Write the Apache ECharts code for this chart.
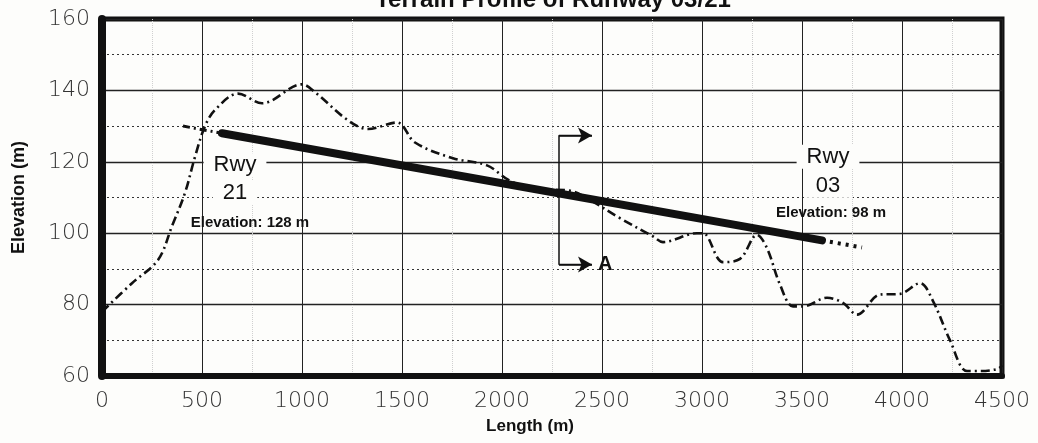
<!DOCTYPE html>
<html>
<head>
<meta charset="utf-8">
<script src="https://cdn.jsdelivr.net/npm/echarts@6/dist/echarts.min.js"></script>
<style>
	html, body { margin: 0; padding: 0; background: #fdfdfb; }
	#profileChart { width: 1038px; height: 443px; }
</style>
</head>
<body>
<div id="profileChart"></div>
<script>
// ground profile along the runway centreline (length m, elevation m)
var terrainLength = [0, 150, 280, 350, 415, 465, 515, 565, 680, 800, 1000, 1065, 1230, 1330, 1475, 1565, 1755, 1925, 2040, 2175, 2340, 2440, 2590, 2755, 2805, 2975, 3005, 3105, 3190, 3275, 3325, 3390, 3455, 3505, 3625, 3705, 3775, 3890, 3990, 4090, 4155, 4240, 4325, 4390, 4480, 4500];
var terrainElev = [78, 86, 92.5, 102, 111.3, 121.4, 130, 134.5, 139.1, 136.4, 141.7, 139.5, 131.6, 129.2, 131, 125.4, 121, 119, 114.7, 112.4, 111.9, 109.3, 104.2, 99.1, 97.5, 100, 100, 91.9, 92.8, 99.5, 95.8, 85.6, 79.5, 79.5, 81.9, 80.5, 77.2, 82.8, 83, 86, 81, 70, 61.4, 61.4, 62, 63];

// runway 21 -> 03 and its dotted extensions
var runwayLength = [600, 3600];
var runwayElev = [128, 98];
var extLeftLength = [405, 600];
var extLeftElev = [130, 128];
var extRightLength = [3600, 3800];
var extRightElev = [98, 96];

// section A-A marker
var sectionLength = [2450, 2285, 2285, 2450];
var sectionElev = [127.4, 127.4, 91.2, 91.2];

var xTicks = [0, 500, 1000, 1500, 2000, 2500, 3000, 3500, 4000, 4500];
var yTicks = [60, 80, 100, 120, 140, 160];

var byId = function(id) {
	return document.getElementById(id);
};

var toPairs = function(xs, ys) {
	var arr = [];
	for (var i = 0; i < xs.length; i++) {
		arr.push([xs[i], ys[i]]);
	}
	return arr;
};

var tickFont = {
	fontFamily: 'DejaVu Sans',
	fontWeight: 200,
	fontSize: 22,
	color: '#333'
};

var textLabel = function(text, coord, size, bg) {
	return {
		coord: coord,
		symbol: 'circle',
		symbolSize: 1,
		itemStyle: { color: 'rgba(0,0,0,0)' },
		label: {
			show: true,
			position: 'inside',
			formatter: text,
			fontFamily: 'Liberation Sans',
			fontSize: size,
			fontWeight: size < 18 ? 'bold' : 'normal',
			color: '#111',
			backgroundColor: bg ? '#fdfdfb' : 'transparent',
			padding: bg ? [1, 10] : 0
		}
	};
};

var makeProfileOption = function() {
	var option = {
		backgroundColor: '#fdfdfb',
		animation: false,
		title: {
			text: 'Terrain Profile of Runway 03/21',
			left: 548,
			top: -17,
			textAlign: 'center',
			textStyle: {
				fontFamily: 'Liberation Sans',
				fontSize: 24,
				fontWeight: 'bold',
				color: '#111'
			}
		},
		grid: {
			left: 102,
			right: 36,
			top: 19,
			bottom: 67,
			show: true,
			borderColor: '#111',
			borderWidth: 5
		},
		xAxis: {
			type: 'value',
			min: 0,
			max: 4500,
			interval: 500,
			name: 'Length (m)',
			nameLocation: 'middle',
			nameGap: 42,
			nameTextStyle: {
				fontFamily: 'Liberation Sans',
				fontSize: 17,
				fontWeight: 'bold',
				color: '#111',
				padding: [0, 44, 0, 0]
			},
			axisLine: { show: true, lineStyle: { color: '#111', width: 6 } },
			axisTick: { show: false },
			axisLabel: Object.assign({ margin: 14, formatter: function(v) {
				return xTicks.indexOf(v) >= 0 ? String(v) : '';
			} }, tickFont),
			splitLine: { show: true, lineStyle: { color: '#222', width: 1 } },
			minorTick: { show: false, splitNumber: 2 },
			minorSplitLine: { show: true, lineStyle: { color: '#d0d0d0', width: 1, type: 'dotted' } }
		},
		yAxis: {
			type: 'value',
			min: 60,
			max: 160,
			interval: 20,
			name: 'Elevation (m)',
			nameLocation: 'middle',
			nameGap: 74,
			nameTextStyle: {
				fontFamily: 'Liberation Sans',
				fontSize: 18,
				fontWeight: 'bold',
				color: '#111'
			},
			axisLine: { show: true, lineStyle: { color: '#111', width: 8 } },
			axisTick: { show: false },
			axisLabel: Object.assign({ margin: 12, formatter: function(v) {
				return yTicks.indexOf(v) >= 0 ? String(v) : '';
			} }, tickFont),
			splitLine: { show: true, lineStyle: { color: '#222', width: 1.3 } },
			minorTick: { show: false, splitNumber: 2 },
			minorSplitLine: { show: true, lineStyle: { color: '#333', width: 1.2, type: [2, 3] } }
		},
		series: [{
			// labels sit under the lines but over the grid
			name: 'labels',
			type: 'scatter',
			z: 1,
			data: [],
			markPoint: {
				silent: true,
				data: [
					textLabel('Rwy', [665, 119], 22, true),
					textLabel('21', [665, 111.3], 22, true),
					textLabel('Elevation: 128 m', [740, 102.8], 15, false),
					textLabel('Rwy', [3630, 121.4], 22, true),
					textLabel('03', [3630, 113.3], 22, true),
					textLabel('Elevation: 98 m', [3645, 105.6], 15, false)
				]
			}
		}, {
			name: 'terrain',
			type: 'line',
			z: 3,
			showSymbol: false,
			smooth: 0.35,
			data: toPairs(terrainLength, terrainElev),
			lineStyle: { color: '#111', width: 2.6, type: [9, 4, 2, 4] }
		}, {
			name: 'runway',
			type: 'line',
			z: 4,
			showSymbol: false,
			data: toPairs(runwayLength, runwayElev),
			lineStyle: { color: '#111', width: 8, cap: 'round' }
		}, {
			name: 'extLeft',
			type: 'line',
			z: 4,
			showSymbol: false,
			data: toPairs(extLeftLength, extLeftElev),
			lineStyle: { color: '#111', width: 3, type: [7, 4, 2, 4] }
		}, {
			name: 'extRight',
			type: 'line',
			z: 4,
			showSymbol: false,
			data: toPairs(extRightLength, extRightElev),
			lineStyle: { color: '#111', width: 4, type: [3, 5] }
		}, {
			name: 'section',
			type: 'line',
			z: 4,
			showSymbol: false,
			data: toPairs(sectionLength, sectionElev),
			lineStyle: { color: '#111', width: 1.5 },
			markLine: {
				silent: true,
				symbol: ['none', 'arrow'],
				symbolSize: [12, 14],
				lineStyle: { color: '#111', width: 1.5, type: 'solid' },
				data: [
					[{ coord: [sectionLength[1], sectionElev[1]] }, { coord: [sectionLength[0], sectionElev[0]] }],
					[{ coord: [sectionLength[2], sectionElev[2]] }, { coord: [sectionLength[3], sectionElev[3]],
						label: { show: true, position: 'end', formatter: 'A', fontFamily: 'Liberation Sans', fontSize: 20, fontWeight: 'bold', color: '#111', distance: 6 } }]
				],
				label: { show: false }
			}
		}]
	};
	return option;
};

var profileChart = echarts.init(byId('profileChart'));
profileChart.setOption(makeProfileOption());
</script>
</body>
</html>
